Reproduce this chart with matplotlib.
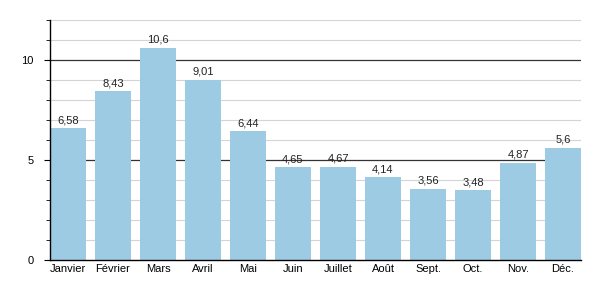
import matplotlib
matplotlib.use("Agg")
import matplotlib.pyplot as plt
from matplotlib.ticker import MultipleLocator

mois = ["Janvier", "Février", "Mars", "Avril", "Mai", "Juin",
        "Juillet", "Août", "Sept.", "Oct.", "Nov.", "Déc."]
valeurs = [6.58, 8.43, 10.6, 9.01, 6.44, 4.65, 4.67, 4.14, 3.56, 3.48, 4.87, 5.6]

plt.rcParams['font.family'] = ['Liberation Sans', 'DejaVu Sans']
plt.rcParams['font.size'] = 8

fig = plt.figure(figsize=(6, 3), dpi=100)
ax = fig.add_axes([50/600, 40/300, 531/600, 240/300])

x = range(len(mois))
bars = ax.bar(x, valeurs, width=0.78, color='#9dcbe3', zorder=2)

# grille : fine tous les 1, foncée à 5 et 10
for v in range(1, 13):
    if v % 5 == 0:
        ax.axhline(v, color='#333333', lw=0.9, zorder=1)
    else:
        ax.axhline(v, color='#d4d4d4', lw=0.8, zorder=1)

for b, v in zip(bars, valeurs):
    ax.text(b.get_x() + b.get_width()/2, v + 0.15, f"{v:g}".replace('.', ','),
            ha='center', va='bottom', fontsize=8, color='#222222')

ax.set_xlim(-0.4, 11.4)
ax.set_ylim(0, 12)
ax.set_xticks(list(x))
ax.set_xticklabels(mois)
ax.set_yticks([0, 5, 10])
ax.yaxis.set_minor_locator(MultipleLocator(1))
ax.tick_params(axis='x', length=0, pad=3)
ax.tick_params(axis='y', which='major', length=4, pad=8)
ax.tick_params(axis='y', which='minor', length=3)
for s in ['top', 'right']:
    ax.spines[s].set_visible(False)
ax.spines['left'].set_linewidth(1)
ax.spines['bottom'].set_linewidth(1)

fig.savefig("out.png", dpi=100)
